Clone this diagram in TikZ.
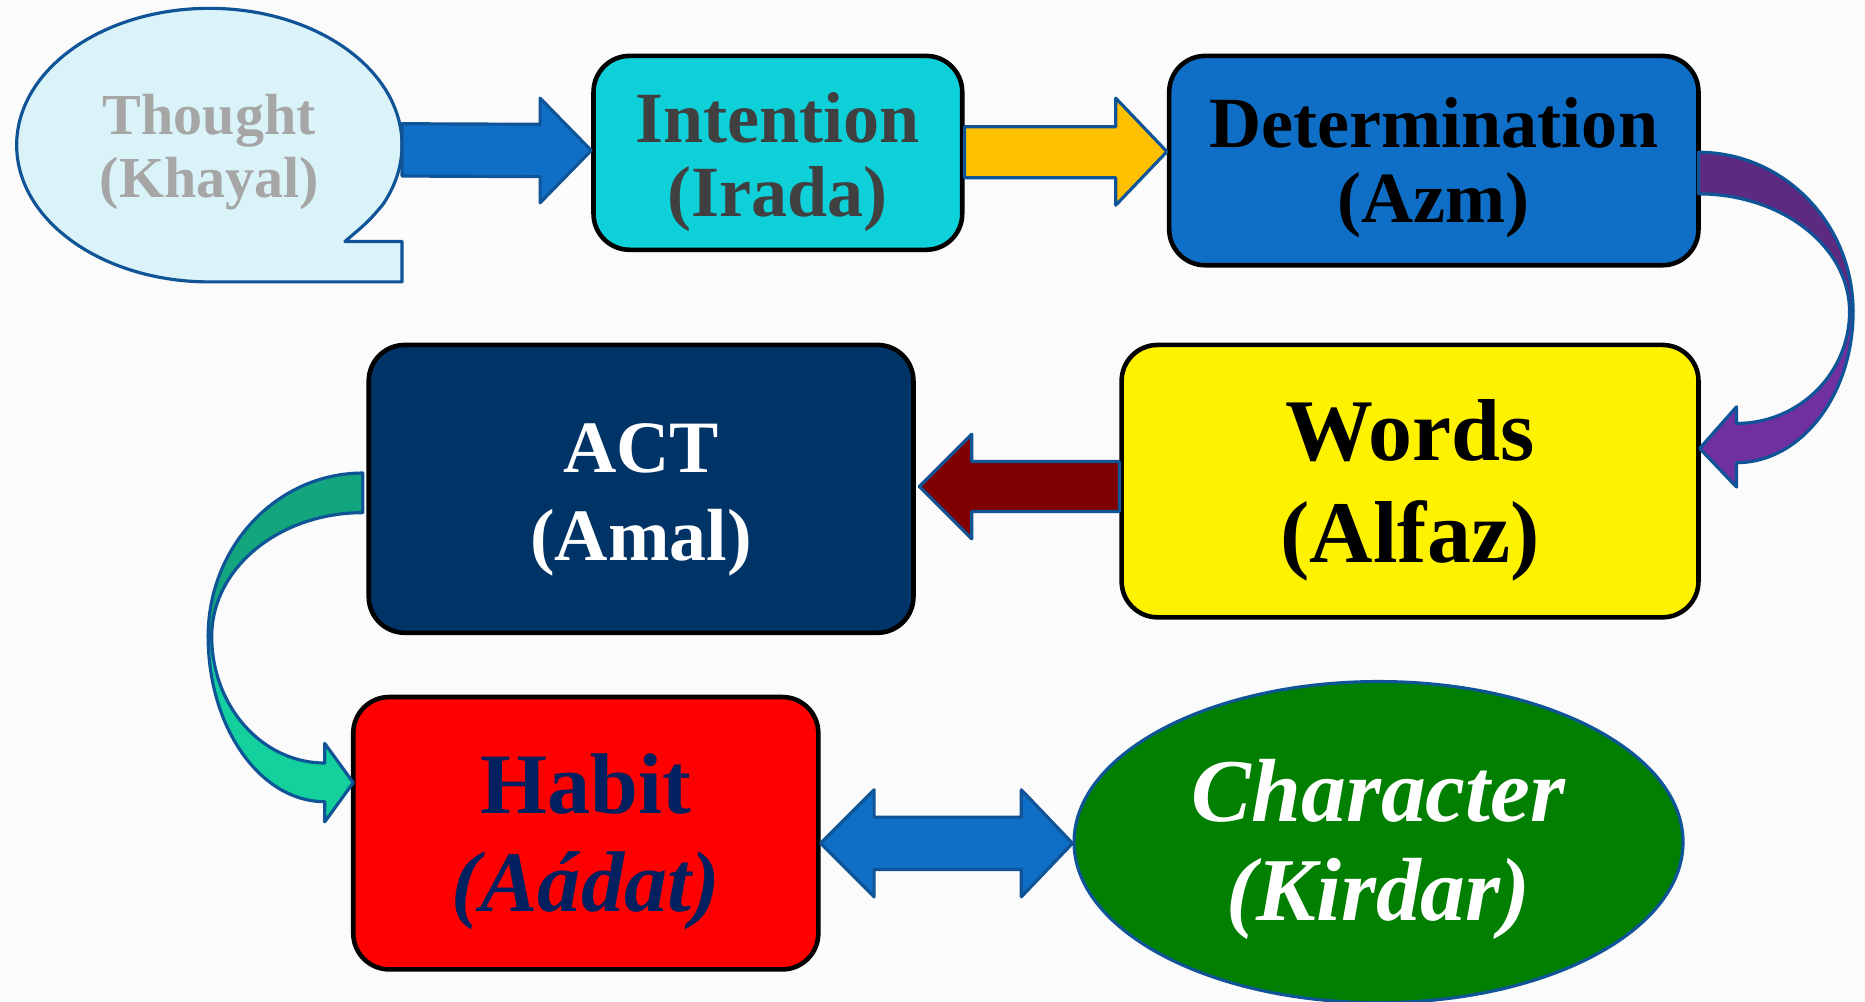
\documentclass[tikz,border=0pt]{standalone}
\usepackage{fontspec}
\setmainfont{Liberation Serif}
\usetikzlibrary{shapes.geometric, calc, positioning}

\definecolor{ppblue}{HTML}{0F6FC6}
\definecolor{lineblue}{HTML}{0F5496}
\definecolor{thoughtfill}{HTML}{DAF3F8}
\definecolor{intfill}{HTML}{0DD0D9}
\definecolor{actfill}{HTML}{003366}
\definecolor{habittext}{HTML}{002060}
\definecolor{charfill}{HTML}{007F00}
\definecolor{arroworange}{HTML}{FFC000}
\definecolor{arrowred}{HTML}{7F0000}
\definecolor{purpletop}{HTML}{5C2A80}
\definecolor{purplebot}{HTML}{7030A0}
\definecolor{tealtop}{HTML}{12A57E}
\definecolor{tealbot}{HTML}{13D09D}

\begin{document}
\begin{tikzpicture}[
    x=0.011894cm, y=-0.011894cm,
    box/.style={rectangle, draw=black, line width=1.3pt, rounded corners=0.36cm, inner sep=0pt},
    txt/.style={align=center, inner sep=0pt},
    barrow/.style={draw=lineblue, line width=0.9pt, line join=round},
    fs/.style 2 args={font=\fontsize{#1}{#2}\selectfont\bfseries}
]
    % background
    \fill[white!98.5!black] (0,0) rectangle (1568,842);
    \useasboundingbox (0,0) rectangle (1568,842);

    % thought bubble
    \draw[fill=thoughtfill, draw=lineblue, line width=0.9pt, line join=round]
        (176,237) arc[start angle=90, end angle=385.7, x radius=162, y radius=115]
        .. controls (310,186) .. (290,203) -- (338,203) -- (338,237) -- cycle;
    \node[txt, fs={16.5}{18}, text=black!35] (thought) at (176,128) {Thought\\(Khayal)};
    \coordinate (thR) at (338,126);

    % boxes
    \node[box, fill=intfill, minimum width=310*0.011894cm, minimum height=163*0.011894cm] (int) at (654,128.5) {};
    \node[txt, fs={20.5}{21}, text=black!75] (intT) at ($(int)+(0,8)$) {Intention\\(Irada)};
    \node[box, fill=ppblue, minimum width=445*0.011894cm, minimum height=176*0.011894cm] (det) at (1205.5,135) {};
    \node[txt, fs={20.5}{21.5}] (detT) at ($(det)+(0,6)$) {Determination\\(Azm)};
    \node[box, fill=yellow, minimum width=485*0.011894cm, minimum height=229*0.011894cm] (words) at (1185.5,404.5) {};
    \node[txt, fs={25}{29}] (wordsT) at ($(words)+(0,8)$) {Words\\(Alfaz)};
    \node[box, fill=actfill, minimum width=458*0.011894cm, minimum height=242*0.011894cm] (act) at (539,411) {};
    \node[txt, fs={21}{25}, text=white] (actT) at ($(act)+(0,9)$) {ACT\\(Amal)};
    \node[box, fill=red, minimum width=391*0.011894cm, minimum height=229*0.011894cm] (habit) at (492.5,700.5) {};
    \node[txt, fs={24.5}{28}, text=habittext] (habitT) at ($(habit)+(0,7)$) {Habit\\\itshape(Aádat)};
    \node[ellipse, draw=lineblue, line width=0.9pt, fill=charfill, inner sep=0pt, minimum width=512*0.011894cm, minimum height=270*0.011894cm] (char) at (1159,708) {};
    \node[txt, fs={25.5}{28}, text=white] (charT) at ($(char)+(0,6)$) {\itshape Character\\\itshape(Kirdar)};

    % straight block arrows
    \draw[barrow, fill=ppblue] ($(thR)+(0,-22)$) -- ($(int.west)+(-43,-24)$) -- ($(int.west)+(-43,-46)$) -- ($(int.west)+(0,-2)$)
        -- ($(int.west)+(-43,42)$) -- ($(int.west)+(-43,20)$) -- ($(thR)+(0,22)$) -- cycle;
    \draw[barrow, fill=arroworange] ($(int.east)+(0,-22)$) -- ($(int.east -| det.west)+(-43,-22)$) -- ($(int.east -| det.west)+(-43,-46)$)
        -- ($(int.east -| det.west)+(0,-1)$) -- ($(int.east -| det.west)+(-43,44)$) -- ($(int.east -| det.west)+(-43,21)$) -- ($(int.east)+(0,21)$) -- cycle;
    \draw[barrow, fill=arrowred] ($(words.west |- act.east)+(0,-23)$) -- ($(act.east)+(47,-23)$) -- ($(act.east)+(47,-46)$) -- ($(act.east)+(3,-2)$)
        -- ($(act.east)+(47,42)$) -- ($(act.east)+(47,19)$) -- ($(words.west |- act.east)+(0,19)$) -- cycle;
    \draw[barrow, fill=ppblue] ($(habit.east |- char.west)+(0,1)$) -- ($(habit.east |- char.west)+(45,-44)$) -- ($(habit.east |- char.west)+(45,-21)$)
        -- ($(char.west)+(-43,-21)$) -- ($(char.west)+(-43,-44)$) -- ($(char.west)+(0,1)$) -- ($(char.west)+(-43,46)$)
        -- ($(char.west)+(-43,23)$) -- ($(habit.east |- char.west)+(45,23)$) -- ($(habit.east |- char.west)+(45,46)$) -- cycle;

    % curved arrow determination -> words
    \draw[barrow, fill=purpletop] (1428,128) arc[start angle=270, end angle=360, x radius=130, y radius=134]
        -- (1555,262) arc[start angle=360, end angle=270, x radius=127, y radius=99] -- cycle;
    \draw[barrow, fill=purplebot] (1558,262) arc[start angle=0, end angle=90, x radius=98, y radius=127]
        -- (1460,409.5) -- (1429,377) -- (1460,342) -- (1460,356)
        arc[start angle=90, end angle=0, x radius=95, y radius=94] -- cycle;

    % curved arrow act -> habit
    \draw[barrow, fill=tealtop] (305,397.7) arc[start angle=270, end angle=180, x radius=130, y radius=137.3]
        -- (178,535) arc[start angle=180, end angle=270, x radius=127, y radius=104] -- cycle;
    \draw[barrow, fill=tealbot] (175,535) arc[start angle=180, end angle=90, x radius=98, y radius=139]
        -- (273,691) -- (297,658) -- (273,625) -- (273,641.5)
        arc[start angle=90, end angle=180, x radius=95, y radius=106.5] -- cycle;
\end{tikzpicture}
\end{document}
